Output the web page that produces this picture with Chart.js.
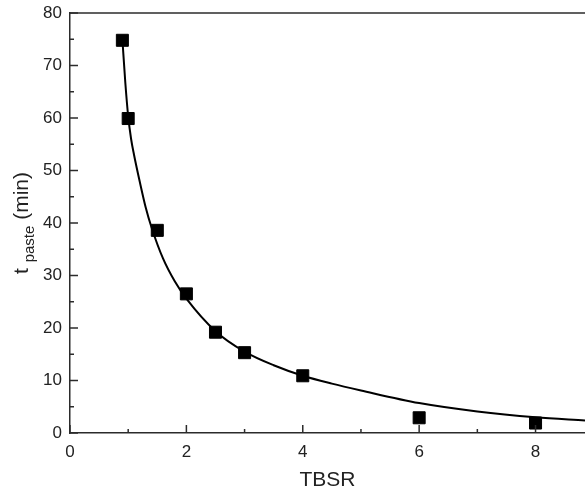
<!DOCTYPE html>
<html>
<head>
<meta charset="utf-8">
<script src="https://cdn.jsdelivr.net/npm/chart.js@4/dist/chart.umd.min.js"></script>
<style>
  html, body { margin: 0; padding: 0; background: #fff; }
  #wrap { width: 585px; height: 499px; }
</style>
</head>
<body>
<div id="wrap"><canvas id="pasteChart" width="585" height="499"></canvas></div>
<script>
    // measured points
    const tbsr = [0.9, 1.0, 1.5, 2.0, 2.5, 3.0, 4.0, 6.0, 8.0];
    const tPaste = [74.8, 59.9, 38.6, 26.5, 19.2, 15.3, 10.9, 2.9, 1.9];

    // fitted curve
    const fitX = [0.9, 0.95, 1.0, 1.05, 1.1, 1.2, 1.3, 1.4, 1.6, 1.8, 2.0, 2.5, 3.0, 3.5, 4.0, 4.5, 5.0, 6.0, 7.0, 8.0, 8.85];
    const fitY = [75, 66.8, 60.3, 56, 53, 47.8, 43, 39.2, 33.2, 28.9, 25.6, 19.4, 15.5, 12.9, 10.9, 9.4, 8.1, 5.7, 4.1, 3.0, 2.4];

    const xTicks = [0, 2, 4, 6, 8];
    const yTicks = [0, 10, 20, 30, 40, 50, 60, 70, 80];

    const axisColor = '#2b2b2b';
    const fontFamily = '"Liberation Sans", Arial, sans-serif';

    // inward ticks (major + minor), top frame line and the y title with subscript
    const framePlugin = {
      id: 'frame',
      afterDraw(chart) {
        const ctx = chart.ctx;
        const area = chart.chartArea;
        const xs = chart.scales.x;
        const ys = chart.scales.y;
        ctx.save();
        ctx.strokeStyle = axisColor;
        ctx.lineWidth = 1.5;

        ctx.beginPath();
        ctx.moveTo(area.left, area.top);
        ctx.lineTo(area.right, area.top);
        ctx.stroke();

        for (let v = 0; v <= xs.max; v += 1) {
          const px = xs.getPixelForValue(v);
          const len = v % 2 === 0 ? 8 : 4;
          ctx.beginPath();
          ctx.moveTo(px, area.bottom);
          ctx.lineTo(px, area.bottom - len);
          ctx.stroke();
        }
        for (let v = 0; v <= ys.max; v += 5) {
          const py = ys.getPixelForValue(v);
          const len = v % 10 === 0 ? 8 : 4;
          ctx.beginPath();
          ctx.moveTo(area.left, py);
          ctx.lineTo(area.left + len, py);
          ctx.stroke();
        }

        // y axis title: t_paste (min)
        const cy = (area.top + area.bottom) / 2;
        ctx.translate(28, cy);
        ctx.rotate(-Math.PI / 2);
        ctx.fillStyle = '#222';
        ctx.textBaseline = 'alphabetic';
        ctx.textAlign = 'left';
        const big = '21px ' + fontFamily;
        const small = '15px ' + fontFamily;
        ctx.font = big;
        const wT = ctx.measureText('t ').width;
        const wMin = ctx.measureText(' (min)').width;
        ctx.font = small;
        const wSub = ctx.measureText('paste').width;
        let x0 = -(wT + wSub + wMin) / 2;
        ctx.font = big;
        ctx.fillText('t', x0, 0);
        ctx.font = small;
        ctx.fillText('paste', x0 + wT, 6);
        ctx.font = big;
        ctx.fillText(' (min)', x0 + wT + wSub, 0);
        ctx.restore();
      }
    };

    const ctx = document.getElementById('pasteChart').getContext('2d');
    new Chart(ctx, {
      type: 'scatter',
      data: {
        datasets: [{
          label: 'fit',
          data: fitX.map((x, i) => ({ x: x, y: fitY[i] })),
          showLine: true,
          borderColor: '#000',
          borderWidth: 2,
          pointRadius: 0,
          cubicInterpolationMode: 'monotone',
          order: 2
        }, {
          label: 'TBSR',
          data: tbsr.map((x, i) => ({ x: x, y: tPaste[i] })),
          pointStyle: 'rect',
          pointRadius: 8.5,
          pointBorderWidth: 1,
          backgroundColor: '#000',
          borderColor: '#000',
          order: 1
        }]
      },
      options: {
        responsive: false,
        animation: false,
        layout: { autoPadding: false, padding: { top: 13, right: 0, left: 0, bottom: 0 } },
        plugins: {
          legend: { display: false },
          tooltip: { enabled: false }
        },
        scales: {
          x: {
            type: 'linear',
            min: 0,
            max: 8.85,
            afterFit: (s) => { s.height = 66; s.paddingLeft = 0; s.paddingRight = 0; },
            afterBuildTicks: (s) => { s.ticks = xTicks.map(v => ({ value: v })); },
            ticks: {
              includeBounds: false,
              color: '#222',
              padding: 9,
              font: { family: fontFamily, size: 17 }
            },
            grid: { display: false, drawTicks: false },
            border: { display: true, color: axisColor, width: 1.5 },
            title: {
              display: true,
              text: 'TBSR',
              color: '#222',
              padding: { top: 4, bottom: 6 },
              font: { family: fontFamily, size: 21 }
            }
          },
          y: {
            min: 0,
            max: 80,
            afterFit: (s) => { s.width = 70; s.paddingTop = 0; s.paddingBottom = 0; },
            afterBuildTicks: (s) => { s.ticks = yTicks.map(v => ({ value: v })); },
            ticks: {
              color: '#222',
              padding: 8,
              font: { family: fontFamily, size: 17 }
            },
            grid: { display: false, drawTicks: false },
            border: { display: true, color: axisColor, width: 1.5 }
          }
        }
      },
      plugins: [framePlugin]
    });
</script>
</body>
</html>
